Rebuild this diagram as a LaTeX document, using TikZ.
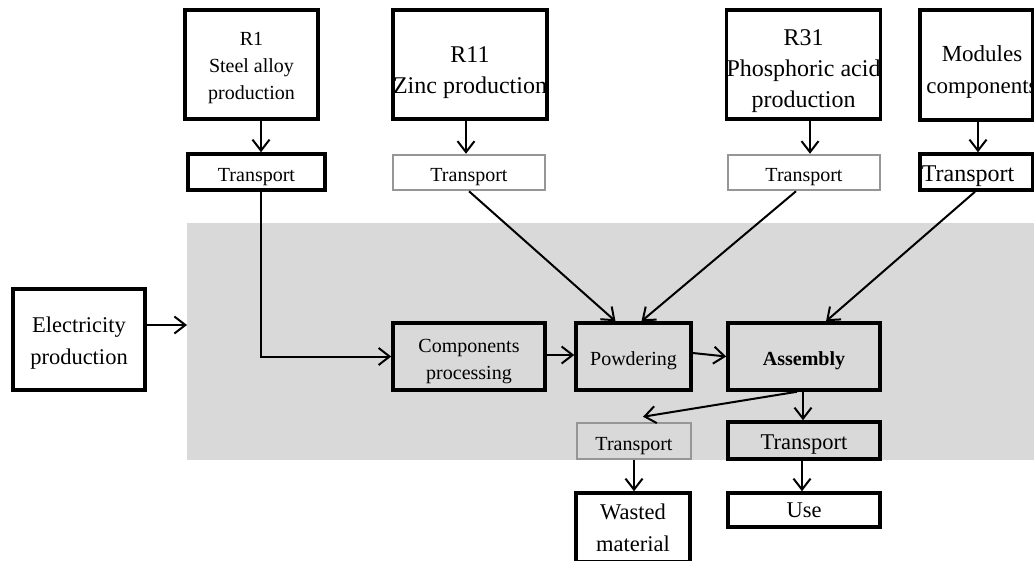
\documentclass[tikz,border=0pt]{standalone}
\usepackage{fontspec}
\setmainfont{Liberation Serif}
\usetikzlibrary{arrows.meta}
\definecolor{bgfill}{RGB}{217,217,217}
\definecolor{dotgray}{RGB}{150,150,150}
\newcommand{\fsS}[1][26.5]{\fontsize{20}{#1}\selectfont}
\newcommand{\fsL}[1][30]{\fontsize{24}{#1}\selectfont}
\newcommand{\fsM}[1][31]{\fontsize{22.5}{#1}\selectfont}
% lowered multi-line text, keeping its reported size
\newcommand{\tx}[2][3pt]{\raisebox{-#1}[\height][\depth]{\begin{tabular}{@{}c@{}}#2\end{tabular}}}
\begin{document}
\begin{tikzpicture}[x=1pt,y=-1pt,
  box/.style={draw=black, line width=3.5pt, inner sep=0pt},
  dbox/.style={draw=dotgray, line width=2.5pt, inner sep=0pt},
  arr/.style={line width=2pt, -{Straight Barb[length=11pt,width=17pt]}},
  ln/.style={line width=2pt}]
\useasboundingbox (0,0) rectangle (1034,560);
\fill[bgfill] (187,223) rectangle (1034,460);
\coordinate (gin) at (187,325);

% top row
\node[box, minimum width=133pt, minimum height=109pt, font={\fsS[27]}] (r1) at (251.5,64.5) {\tx[3pt]{R1\\Steel alloy\\production}};
\node[box, minimum width=137pt, minimum height=36pt, font=\fsS] (t1) at (256.5,172) {\tx[4pt]{Transport}};
\node[box, minimum width=154pt, minimum height=109pt, font={\fsL[31]}] (r11) at (470,64.5) {\tx[7pt]{R11\\Zinc production}};
\node[dbox, minimum width=152pt, minimum height=35pt, font=\fsS] (t2) at (469,172.5) {\tx[4pt]{Transport}};
\node[box, minimum width=153pt, minimum height=109pt, font={\fsL[31]}] (r31) at (803.5,64.5) {\tx[6pt]{R31\\Phosphoric acid\\production}};
\node[dbox, minimum width=152pt, minimum height=35pt, font=\fsS] (t3) at (804,172.5) {\tx[4pt]{Transport}};
\node[box, minimum width=113pt, minimum height=110pt] (mod) at (976.5,65) {};
\node[inner sep=0pt, font={\fontsize{23}{32}\selectfont}] (modtxt) at (982,71) {\tx[0pt]{Modules\\components}};
\node[box, minimum width=113pt, minimum height=36pt] (t4) at (976.5,172) {};
\node[inner sep=0pt, font=\fsL] (t4txt) at (968,175) {\tx[0pt]{Transport}};

% middle row
\node[box, minimum width=132pt, minimum height=101pt, font={\fsM[32]}] (elec) at (79,339.5) {\tx[3pt]{Electricity\\production}};
\node[box, minimum width=152pt, minimum height=67pt, font={\fsS[27]}] (comp) at (469,356.5) {\tx[4pt]{Components\\processing}};
\node[box, minimum width=115pt, minimum height=67pt, font=\fsS] (powd) at (633.5,356.5) {\tx[3.5pt]{Powdering}};
\node[box, minimum width=152pt, minimum height=67pt, font=\fsS\bfseries] (assem) at (804,356.5) {\tx[3.5pt]{Assembly}};

% bottom
\node[dbox, minimum width=114pt, minimum height=36pt, font=\fsS] (t5) at (634,441) {\tx[4pt]{Transport}};
\node[box, minimum width=152pt, minimum height=37pt, font=\fsM] (t6) at (804,440.5) {\tx[3pt]{Transport}};
\node[box, minimum width=114pt, minimum height=69pt, font={\fsM[32]}] (wasted) at (633,527.5) {\tx[2pt]{Wasted\\material}};
\node[box, minimum width=152pt, minimum height=34pt, font=\fsM] (use) at (804,510) {\tx[1pt]{Use}};

% connectors
\draw[arr] ([xshift=9.5pt]r1.south) -- ([xshift=4.5pt]t1.north);
\draw[arr] ([xshift=4.5pt]t1.south) |- (comp.west);
\draw[arr] ([xshift=-4pt]r11.south) -- ([xshift=-3pt]t2.north);
\draw[arr] (t2.south) -- ([xshift=-18pt]powd.north);
\draw[arr] ([xshift=6.5pt]r31.south) -- ([xshift=6pt]t3.north);
\draw[arr] ([xshift=-8pt]t3.south) -- ([xshift=8pt]powd.north);
\draw[arr] ([xshift=1.5pt]mod.south) -- ([xshift=1.5pt]t4.north);
\draw[arr] ([xshift=-1.5pt]t4.south) -- ([xshift=22pt]assem.north);
\draw[arr] ([yshift=14.5pt]elec.east) -- (gin);
\draw[arr] ([yshift=1.5pt]comp.east) -- ([yshift=1.5pt]powd.west);
\draw[arr] ([yshift=3.5pt]powd.east) -- (assem.west);
\draw[arr] ([xshift=-7pt]assem.south) -- ([xshift=9pt,yshift=5pt]t5.north);
\draw[arr] ([xshift=-1pt]assem.south) -- ([xshift=-1pt]t6.north);
\draw[arr] (t5.south) -- ([xshift=1pt]wasted.north);
\draw[arr] ([xshift=-2pt]t6.south) -- ([xshift=-2pt]use.north);
\end{tikzpicture}
\end{document}
